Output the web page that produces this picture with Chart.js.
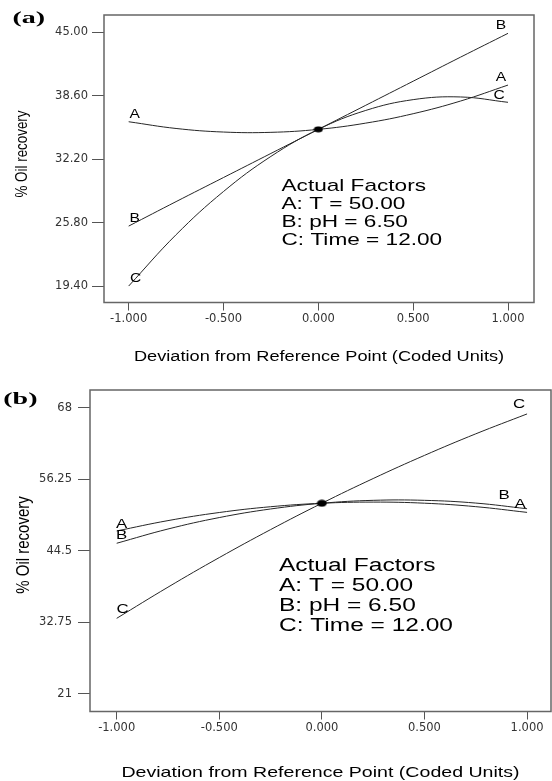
<!DOCTYPE html>
<html>
<head>
<meta charset="utf-8">
<script src="https://cdn.jsdelivr.net/npm/chart.js@4.4.0/dist/chart.umd.min.js"></script>
<style>
  html, body { margin: 0; padding: 0; background: #fff; }
  body { width: 552px; height: 781px; position: relative; overflow: hidden; }
  canvas { position: absolute; left: 0; }
  #chartA { top: 0; }
  #chartB { top: 372px; }
</style>
</head>
<body>
<canvas id="chartA" width="552" height="372"></canvas>
<canvas id="chartB" width="552" height="409"></canvas>
<script>
// coded deviation from the reference point
const coded = [-1, -0.75, -0.5, -0.25, 0, 0.25, 0.5, 0.75, 1];

// panel (a) - % oil recovery
const aT    = [35.98, 35.30, 34.94, 34.91, 35.21, 35.84, 36.79, 38.07, 39.68];
const aPH   = [25.45, 27.92, 30.35, 32.78, 35.21, 37.64, 40.07, 42.50, 44.90];
const aTime = [19.40, 24.58, 28.94, 32.48, 35.21, 37.12, 38.21, 38.48, 37.94];
const aRef = 35.21;
const aYTicks = [19.40, 25.80, 32.20, 38.60, 45.00];
const aYLabels = ['19.40', '25.80', '32.20', '38.60', '45.00'];

// panel (b) - % oil recovery
const bT    = [47.75, 49.45, 50.78, 51.73, 52.30, 52.49, 52.31, 51.74, 50.80];
const bPH   = [45.73, 48.07, 49.95, 51.36, 52.30, 52.78, 52.78, 52.33, 51.40];
const bTime = [33.40, 38.52, 43.38, 47.97, 52.30, 56.36, 60.16, 63.70, 66.97];
const bRef = 52.30;
const bYTicks = [21, 32.75, 44.5, 56.25, 68];
const bYLabels = ['21', '32.75', '44.5', '56.25', '68'];

const xTicks = [-1, -0.5, 0, 0.5, 1];
const xLabels = ['-1.000', '-0.500', '0.000', '0.500', '1.000'];

const factorLines = ['Actual Factors', 'A: T = 50.00', 'B: pH = 6.50', 'C: Time = 12.00'];
const xTitle = 'Deviation from Reference Point (Coded Units)';
const yTitle = '% Oil recovery';

// the source image is stretched sideways, so text is drawn with a scale
function putText(ctx, text, x, y, font, sx, sy, align, rot) {
  ctx.save();
  ctx.translate(x, y);
  if (rot) ctx.rotate(rot);
  ctx.scale(sx, sy);
  ctx.font = font;
  ctx.fillStyle = '#000';
  ctx.textAlign = align || 'left';
  ctx.textBaseline = 'middle';
  ctx.fillText(text, 0, 0);
  ctx.restore();
}

function ellipseDot(w, h) {
  const c = document.createElement('canvas');
  c.width = w; c.height = h;
  const g = c.getContext('2d');
  g.fillStyle = '#000';
  g.beginPath();
  g.ellipse(w / 2, h / 2, w / 2 - 0.5, h / 2 - 0.5, 0, 0, Math.PI * 2);
  g.fill();
  return c;
}

const panelDecor = {
  id: 'panelDecor',
  afterDraw(chart, args, o) {
    const ctx = chart.ctx;
    const ca = chart.chartArea;

    // frame
    ctx.save();
    ctx.strokeStyle = '#666';
    ctx.lineWidth = 1.5;
    ctx.strokeRect(ca.left, ca.top, ca.right - ca.left, ca.bottom - ca.top);
    ctx.restore();

    // curve letters at both ends
    chart.data.datasets.forEach((ds, i) => {
      if (!ds.tag) return;
      const pts = chart.getDatasetMeta(i).data;
      const p0 = pts[0], p1 = pts[pts.length - 1];
      const lo = o.leftOff[ds.tag], ro = o.rightOff[ds.tag];
      putText(ctx, ds.tag, p0.x + lo[0], p0.y + lo[1], o.letterFont, o.sx, 1, 'center');
      putText(ctx, ds.tag, p1.x + ro[0], p1.y + ro[1], o.letterFont, o.sx, 1, 'center');
    });

    // actual factors block
    factorLines.forEach((t, i) => {
      putText(ctx, t, o.factorX, o.factorY + i * o.factorStep, o.factorFont, o.factorSx, 1, 'left');
    });

    // axis titles
    putText(ctx, xTitle, (ca.left + ca.right) / 2, o.xTitleY, o.xTitleFont, o.titleSx, 1, 'center');
    putText(ctx, yTitle, o.yTitleX, o.yTitleY, o.yTitleFont, 1, 1.2, 'center', -Math.PI / 2);

    // panel tag
    putText(ctx, o.tag, o.tagX, o.tagY, 'bold 16px "Liberation Serif"', 1.75, 1, 'left');
  }
};

function buildPanel(id, p) {
  const curves = [
    { tag: 'A', values: p.T },
    { tag: 'B', values: p.PH },
    { tag: 'C', values: p.Time }
  ];
  const tickFont = { family: 'DejaVu Sans', size: 11.5 };

  new Chart(document.getElementById(id), {
    type: 'line',
    data: {
      datasets: [
        { data: [{ x: 0, y: p.ref }], showLine: false, pointStyle: ellipseDot(p.dot[0], p.dot[1]), pointRadius: 5, order: 0 },
        ...curves.map(c => ({
          tag: c.tag,
          data: coded.map((x, i) => ({ x: x, y: c.values[i] })),
          borderColor: '#262626',
          borderWidth: 1,
          pointRadius: 0,
          tension: 0.4,
          fill: false,
          order: 1
        }))
      ]
    },
    plugins: [panelDecor],
    options: {
      responsive: false,
      animation: false,
      events: [],
      layout: { autoPadding: false, padding: { top: p.area.top, right: 552 - p.area.right, left: 0, bottom: 0 } },
      plugins: {
        legend: { display: false },
        tooltip: { enabled: false },
        panelDecor: p.decor
      },
      scales: {
        x: {
          type: 'linear',
          min: p.xMin,
          max: p.xMax,
          afterBuildTicks: s => { s.ticks = xTicks.map(v => ({ value: v })); },
          afterFit: s => {
            s.height = p.height - p.area.bottom;
            s.paddingLeft = 0;
            s.paddingRight = 0;
          },
          ticks: { callback: (v, i) => xLabels[i], font: tickFont, color: '#333', padding: 2, maxRotation: 0, autoSkip: false },
          grid: { drawOnChartArea: false, drawTicks: true, tickLength: 8, color: '#555' },
          border: { display: false }
        },
        y: {
          type: 'linear',
          min: p.yMin,
          max: p.yMax,
          afterBuildTicks: s => { s.ticks = p.yTicks.map(v => ({ value: v })); },
          afterFit: s => {
            s.width = p.area.left;
            s.paddingTop = 0;
            s.paddingBottom = 0;
          },
          ticks: { callback: (v, i) => p.yLabels[i], font: tickFont, color: '#333', padding: p.yPad, autoSkip: false },
          grid: { drawOnChartArea: false, drawTicks: true, tickLength: 12, color: '#555' },
          border: { display: false }
        }
      }
    }
  });
}

buildPanel('chartA', {
  T: aT, PH: aPH, Time: aTime, ref: aRef,
  yTicks: aYTicks, yLabels: aYLabels,
  height: 372,
  area: { left: 104, right: 534, top: 15, bottom: 302.5 },
  xMin: -1.13, xMax: 1.137, yMin: 17.74, yMax: 46.75, yPad: 4,
  dot: [10, 7],
  decor: {
    tag: '(a)', tagX: 12.5, tagY: 18.5,
    letterFont: '12px "Liberation Sans"', sx: 1.3,
    leftOff: { A: [6, -7], B: [6, -7], C: [7, -7] },
    rightOff: { A: [-7, -7], B: [-7, -8], C: [-9, -7] },
    factorX: 281.5, factorY: 186, factorStep: 18, factorFont: '17px "Liberation Sans"', factorSx: 1.33,
    xTitleY: 357.3, xTitleFont: '14px "Liberation Sans"', titleSx: 1.3,
    yTitleX: 23, yTitleY: 154, yTitleFont: '13.4px "Liberation Sans"'
  }
});

buildPanel('chartB', {
  T: bT, PH: bPH, Time: bTime, ref: bRef,
  yTicks: bYTicks, yLabels: bYLabels,
  height: 409,
  area: { left: 90, right: 551, top: 18, bottom: 339.5 },
  xMin: -1.13, xMax: 1.1166, yMin: 18.1, yMax: 70.9, yPad: 6,
  dot: [11, 8],
  decor: {
    tag: '(b)', tagX: 3.3, tagY: 28,
    letterFont: '12.5px "Liberation Sans"', sx: 1.35,
    leftOff: { A: [5, -6], B: [5, -8], C: [6, -9] },
    rightOff: { A: [-7, -8], B: [-23, -13], C: [-8, -9] },
    factorX: 279, factorY: 194, factorStep: 20, factorFont: '18px "Liberation Sans"', factorSx: 1.36,
    xTitleY: 400.5, xTitleFont: '14.5px "Liberation Sans"', titleSx: 1.35,
    yTitleX: 24, yTitleY: 173, yTitleFont: '15px "Liberation Sans"'
  }
});
</script>
</body>
</html>
